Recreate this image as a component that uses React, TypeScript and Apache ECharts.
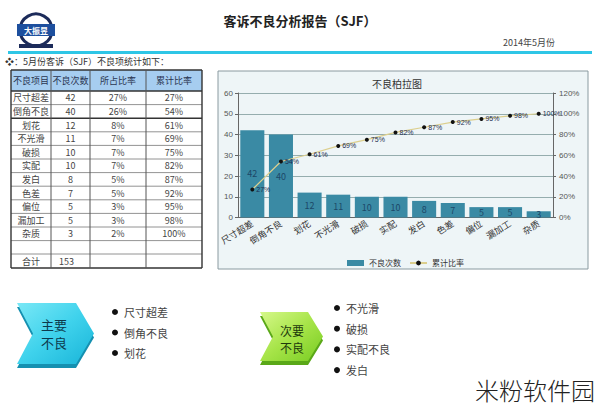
import React, { useEffect, useRef } from "react";
import * as echarts from "echarts";

const categories = ["尺寸超差", "倒角不良", "划花", "不光滑", "破损", "实配", "发白", "色差", "偏位", "漏加工", "杂质"];
const counts = [42, 40, 12, 11, 10, 10, 8, 7, 5, 5, 3];
const sharePct = ["27%", "26%", "8%", "7%", "7%", "7%", "5%", "5%", "3%", "3%", "2%"];
const cumPct = [27, 54, 61, 69, 75, 82, 87, 92, 95, 98, 100];
const totalCount = 153;
const tableHeaders = ["不良项目", "不良次数", "所占比率", "累计比率"];
const majorItems = ["尺寸超差", "倒角不良", "划花"];
const minorItems = ["不光滑", "破损", "实配不良", "发白"];

const SERIF = "'Noto Sans CJK SC', 'DejaVu Serif', serif";
const SANS = "'Noto Sans CJK SC', sans-serif";

function buildTable(): any[] {
  const els: any[] = [];
  const colX = [11, 51, 90, 146, 202];
  const rowY: number[] = [70, 91];
  for (let i = 0; i < categories.length; i++) rowY.push(rowY[rowY.length - 1] + 13.6);
  rowY.push(rowY[rowY.length - 1] + 13.4);
  rowY.push(268);
  els.push({ type: "rect", shape: { x: colX[0], y: rowY[0], width: colX[4] - colX[0], height: rowY[1] - rowY[0] }, style: { fill: "#a6cdf0" } });
  rowY.forEach((y, i) => {
    const strong = i === 0 || i === 1 || i === 3 || i === rowY.length - 1;
    els.push({ type: "line", shape: { x1: colX[0], y1: y, x2: colX[4], y2: y }, style: { stroke: strong ? "#333" : "#777", lineWidth: strong ? 1.4 : 0.8 } });
  });
  colX.forEach((x, i) => {
    const strong = i === 0 || i === colX.length - 1;
    els.push({ type: "line", shape: { x1: x, y1: rowY[0], x2: x, y2: rowY[rowY.length - 1] }, style: { stroke: strong ? "#333" : "#555", lineWidth: strong ? 1.4 : 1 } });
  });
  const cx = (i: number) => (colX[i] + colX[i + 1]) / 2;
  const cy = (r: number) => (rowY[r] + rowY[r + 1]) / 2;
  const txt = (text: string, x: number, y: number, color = "#444") => ({
    type: "text",
    style: { text, x, y, fill: color, fontSize: 9, fontFamily: SERIF, textAlign: "center", textVerticalAlign: "middle" },
  });
  tableHeaders.forEach((h, i) => els.push(txt(h, cx(i), cy(0), "#2a3550")));
  categories.forEach((c, r) => {
    els.push(txt(c, cx(0), cy(r + 1)));
    els.push(txt(String(counts[r]), cx(1), cy(r + 1)));
    els.push(txt(sharePct[r], cx(2), cy(r + 1)));
    els.push(txt(cumPct[r] + "%", cx(3), cy(r + 1)));
  });
  const lastRow = categories.length + 2;
  els.push(txt("合计", cx(0), cy(lastRow)));
  els.push(txt(String(totalCount), cx(1) - 4, cy(lastRow)));
  return els;
}

function chevron(x0: number, y0: number, w: number, h: number, notch: number, tip: number) {
  const ym = y0 + h / 2;
  return [
    [x0, y0],
    [x0 + w - tip, y0],
    [x0 + w, ym],
    [x0 + w - tip, y0 + h],
    [x0, y0 + h],
    [x0 + notch, ym],
  ];
}

function buildArrows(): any[] {
  const els: any[] = [];
  els.push({ type: "polygon", shape: { points: chevron(17, 307, 77, 61, 16, 18) }, style: { fill: "#1590b0" } });
  els.push({
    type: "polygon",
    shape: { points: chevron(17, 303, 77, 61, 16, 18) },
    style: {
      fill: new echarts.graphic.LinearGradient(0, 0, 1, 1, [
        { offset: 0, color: "#7ae8f6" },
        { offset: 0.5, color: "#3fd2ec" },
        { offset: 1, color: "#18b4d8" },
      ]),
    },
  });
  ["主要", "不良"].forEach((t, i) =>
    els.push({ type: "text", style: { text: t, x: 54, y: 324 + i * 18, fill: "#0d3a4c", fontSize: 13, fontFamily: SANS, textAlign: "center", textVerticalAlign: "middle" } })
  );
  majorItems.forEach((t, i) => {
    const y = 312 + i * 20.5;
    els.push({ type: "circle", shape: { cx: 115, cy: y, r: 3 }, style: { fill: "#111" } });
    els.push({ type: "text", style: { text: t, x: 124, y, fill: "#444", fontSize: 11, fontFamily: SERIF, textVerticalAlign: "middle" } });
  });
  els.push({ type: "polygon", shape: { points: chevron(260, 316, 63, 49, 13, 15) }, style: { fill: "#5aa818" } });
  els.push({
    type: "polygon",
    shape: { points: chevron(260, 312, 63, 49, 13, 15) },
    style: {
      fill: new echarts.graphic.LinearGradient(0, 0, 1, 1, [
        { offset: 0, color: "#d6f88a" },
        { offset: 0.5, color: "#a6e448" },
        { offset: 1, color: "#78cc22" },
      ]),
    },
  });
  ["次要", "不良"].forEach((t, i) =>
    els.push({ type: "text", style: { text: t, x: 292, y: 330 + i * 17, fill: "#1e3a0c", fontSize: 12, fontFamily: SANS, textAlign: "center", textVerticalAlign: "middle" } })
  );
  minorItems.forEach((t, i) => {
    const y = 308 + i * 20.7;
    els.push({ type: "circle", shape: { cx: 337, cy: y, r: 3 }, style: { fill: "#111" } });
    els.push({ type: "text", style: { text: t, x: 346, y, fill: "#444", fontSize: 11, fontFamily: SERIF, textVerticalAlign: "middle" } });
  });
  return els;
}

function buildHeader(): any[] {
  return [
    { type: "circle", shape: { cx: 36, cy: 30, r: 16 }, style: { fill: "#fff", stroke: "#1c2b5a", lineWidth: 3 } },
    { type: "rect", shape: { x: 17, y: 24, width: 38, height: 12 }, style: { fill: "#1d4f9e" } },
    { type: "text", style: { text: "大振昱", x: 36, y: 30, fill: "#fff", fontSize: 8, fontWeight: "bold", fontFamily: SANS, textAlign: "center", textVerticalAlign: "middle" } },
    { type: "rect", shape: { x: 19, y: 44, width: 34, height: 4 }, style: { fill: "#1c2b5a" } },
    { type: "text", style: { text: "客诉不良分析报告（SJF）", x: 300, y: 20, fill: "#222", fontSize: 13, fontWeight: "bold", fontFamily: SERIF, textAlign: "center", textVerticalAlign: "middle" } },
    { type: "text", style: { text: "2014年5月份", x: 555, y: 42, fill: "#444", fontSize: 9, fontFamily: SERIF, textAlign: "right", textVerticalAlign: "middle" } },
    { type: "rect", shape: { x: 8, y: 51, width: 584, height: 3 }, style: { fill: "#2ec6e6" } },
    { type: "text", style: { text: "❖：5月份客诉（SJF）不良项统计如下：", x: 5, y: 61, fill: "#333", fontSize: 9, fontFamily: SERIF, textVerticalAlign: "middle" } },
    { type: "rect", z: -10, shape: { x: 218, y: 71, width: 370, height: 198 }, style: { fill: "#eef5f7", stroke: "#8a9aa0", lineWidth: 1 } },
    { type: "text", style: { text: "不良柏拉图", x: 397, y: 83, fill: "#333", fontSize: 10, fontFamily: SERIF, textAlign: "center", textVerticalAlign: "middle" } },
    { type: "text", style: { text: "米粉软件园", x: 535, y: 389, fill: "#222", fontSize: 24, fontWeight: 300, fontFamily: SANS, textAlign: "center", textVerticalAlign: "middle" } },
  ];
}

export default function App() {
  const ref = useRef<HTMLDivElement>(null);
  useEffect(() => {
    if (!ref.current) return;
    const chart = echarts.init(ref.current, undefined, { renderer: "svg" });
    chart.setOption({
      animation: false,
      backgroundColor: "#ffffff",
      graphic: { elements: [...buildHeader(), ...buildTable(), ...buildArrows()] },
      legend: {
        left: 342,
        top: 254,
        itemWidth: 17,
        itemHeight: 6,
        itemGap: 8,
        textStyle: { fontSize: 8, color: "#333", fontFamily: SERIF },
        data: [{ name: "不良次数", icon: "rect" }, { name: "累计比率" }],
      },
      grid: { left: 238, right: 47, top: 93, bottom: 195.5, containLabel: false },
      xAxis: {
        type: "category",
        data: categories,
        axisLine: { lineStyle: { color: "#666", width: 1 } },
        axisTick: { alignWithLabel: true, length: 3, lineStyle: { color: "#666" } },
        axisLabel: { rotate: 32, fontSize: 9, color: "#333", fontFamily: SERIF, margin: 5, interval: 0 },
      },
      yAxis: [
        {
          type: "value",
          min: 0,
          max: 60,
          interval: 10,
          axisLine: { show: true, lineStyle: { color: "#666" } },
          axisTick: { show: true, length: 3, lineStyle: { color: "#666" } },
          axisLabel: { fontSize: 8, color: "#555", margin: 5 },
          splitLine: { lineStyle: { color: "#7d9a9a", width: 0.8 } },
        },
        {
          type: "value",
          min: 0,
          max: 120,
          interval: 20,
          axisLine: { show: true, lineStyle: { color: "#666" } },
          axisTick: { show: true, length: 3, lineStyle: { color: "#666" } },
          axisLabel: { fontSize: 8, color: "#555", margin: 6, formatter: "{value}%" },
          splitLine: { show: false },
        },
      ],
      series: [
        {
          name: "不良次数",
          type: "bar",
          data: counts,
          barCategoryGap: "16%",
          itemStyle: { color: "#3a8aa4" },
          label: { show: true, position: "inside", fontSize: 9, color: "#1c4868", fontFamily: SERIF },
        },
        {
          name: "累计比率",
          type: "line",
          yAxisIndex: 1,
          data: cumPct,
          symbol: "circle",
          symbolSize: 4,
          lineStyle: { color: "#dccf8e", width: 1.2 },
          itemStyle: { color: "#111" },
          label: { show: true, position: "right", distance: 2, fontSize: 7, color: "#1c2d50", formatter: "{c}%" },
        },
      ],
    });
    return () => chart.dispose();
  }, []);
  return <div ref={ref} style={{ position: "absolute", left: 0, top: 0, width: 600, height: 413 }} />;
}
